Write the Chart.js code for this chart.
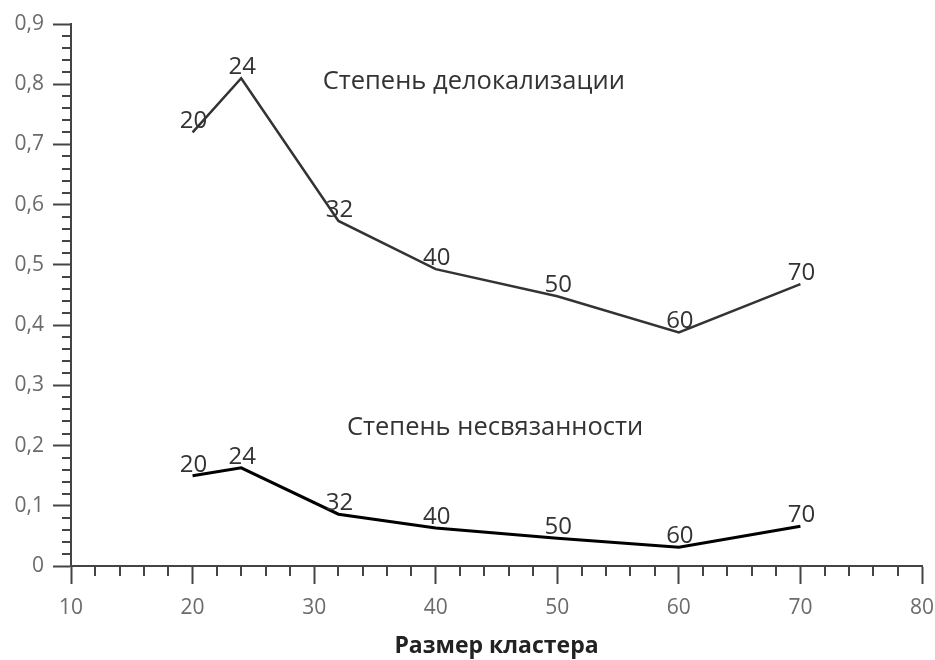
<!DOCTYPE html>
<html>
<head>
<meta charset="utf-8">
<script src="https://cdn.jsdelivr.net/npm/chart.js@4"></script>
<style>
  body { margin: 0; background: #fff; }
  #wrap { width: 935px; height: 660px; }
</style>
</head>
<body>
<div id="wrap"><canvas id="grafico" width="935" height="660"></canvas></div>
<script>
// размеры кластеров и значения двух кривых
const razmery = [20, 24, 32, 40, 50, 60, 70];
const delokalizaciya = [0.72, 0.81, 0.573, 0.493, 0.448, 0.388, 0.468];
const nesvyazannost = [0.15, 0.163, 0.086, 0.063, 0.046, 0.031, 0.066];

const xMin = 10, xMax = 80, xStep = 10, xMinorStep = 2;
const yMin = 0, yMax = 0.9, yStep = 0.1, yMinorStep = 0.02;

const podpisi = [
    { text: "Степень делокализации", x: 30.7, y: 0.804 },
    { text: "Степень несвязанности", x: 32.7, y: 0.229 }
];

const FONT = "'Open Sans', 'Noto Sans', sans-serif";

// мелкие засечки на осях
const minorTicks = {
    id: "minorTicks",
    afterDraw(chart) {
        const { ctx } = chart;
        const sx = chart.scales.x, sy = chart.scales.y;
        ctx.save();
        ctx.strokeStyle = "#444";
        ctx.lineWidth = 2;
        ctx.beginPath();
        for (let v = xMin; v <= xMax + 1e-9; v += xMinorStep) {
            if (Math.abs(v % xStep) < 1e-9) continue;
            const px = Math.round(sx.getPixelForValue(v));
            ctx.moveTo(px, sx.top);
            ctx.lineTo(px, sx.top + 10);
        }
        for (let i = 0; i <= Math.round((yMax - yMin) / yMinorStep); i++) {
            if (i % 5 === 0) continue;
            const py = Math.round(sy.getPixelForValue(yMin + i * yMinorStep));
            ctx.moveTo(sy.right - 9, py);
            ctx.lineTo(sy.right, py);
        }
        ctx.stroke();
        ctx.restore();
    }
};

// подписи точек и названия кривых
const metki = {
    id: "metki",
    afterDatasetsDraw(chart) {
        const { ctx } = chart;
        ctx.save();
        ctx.fillStyle = "#333";
        ctx.font = "24px " + FONT;
        ctx.textAlign = "center";
        ctx.textBaseline = "alphabetic";
        chart.data.datasets.forEach((ds, i) => {
            chart.getDatasetMeta(i).data.forEach((pt, j) => {
                ctx.fillText(String(razmery[j]), pt.x + 1, pt.y - 4);
            });
        });
        ctx.textAlign = "left";
        ctx.textBaseline = "middle";
        ctx.font = "25.5px " + FONT;
        podpisi.forEach(p => {
            ctx.fillText(p.text, chart.scales.x.getPixelForValue(p.x), chart.scales.y.getPixelForValue(p.y));
        });
        ctx.restore();
    }
};

const ctx = document.getElementById("grafico").getContext("2d");
new Chart(ctx, {
    type: "line",
    data: {
        datasets: [
            {
                label: "Степень делокализации",
                data: razmery.map((x, i) => ({ x: x, y: delokalizaciya[i] })),
                borderColor: "#333",
                borderWidth: 2.5,
                pointRadius: 0,
                tension: 0,
                fill: false
            },
            {
                label: "Степень несвязанности",
                data: razmery.map((x, i) => ({ x: x, y: nesvyazannost[i] })),
                borderColor: "#000",
                borderWidth: 3,
                pointRadius: 0,
                tension: 0,
                fill: false
            }
        ]
    },
    options: {
        responsive: false,
        animation: false,
        layout: { padding: { top: 24, right: 13, left: 0, bottom: 0 } },
        plugins: {
            legend: { display: false },
            tooltip: { enabled: false }
        },
        scales: {
            x: {
                type: "linear",
                min: xMin,
                max: xMax,
                afterFit: s => { s.height = 94; s.paddingRight = 0; s.paddingLeft = 0; },
                border: { color: "#444", width: 2 },
                grid: { drawOnChartArea: false, tickLength: 18, tickColor: "#444", tickWidth: 2 },
                ticks: {
                    stepSize: xStep,
                    padding: 11,
                    color: "#6b6b6b",
                    font: { family: FONT, size: 21 }
                },
                title: {
                    display: true,
                    text: "Размер кластера",
                    color: "#222",
                    padding: { top: 0, bottom: 0 },
                    font: { family: FONT, size: 23, weight: "bold" }
                }
            },
            y: {
                min: yMin,
                max: yMax,
                afterFit: s => { s.width = 71; s.paddingTop = 0; s.paddingBottom = 0; },
                border: { color: "#444", width: 2 },
                grid: { drawOnChartArea: false, tickLength: 18, tickColor: "#444", tickWidth: 2 },
                ticks: {
                    stepSize: yStep,
                    padding: 9,
                    color: "#6b6b6b",
                    font: { family: FONT, size: 21 },
                    callback: v => v === 0 ? "0" : v.toFixed(1).replace(".", ",")
                }
            }
        }
    },
    plugins: [minorTicks, metki]
});
</script>
</body>
</html>
